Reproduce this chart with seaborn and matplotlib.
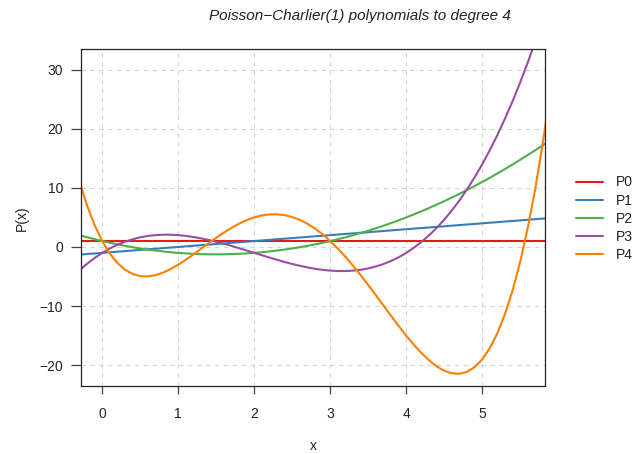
import pandas as pd
import matplotlib.pyplot as plt
import seaborn as sns

x = [-0.3, -0.2, -0.1, 0.0, 0.1, 0.2, 0.3, 0.4, 0.5, 0.6, 0.7, 0.8, 0.9,
     1.0, 1.1, 1.2, 1.3, 1.4, 1.5, 1.6, 1.7, 1.8, 1.9, 2.0, 2.1, 2.2, 2.3,
     2.4, 2.5, 2.6, 2.7, 2.8, 2.9, 3.0, 3.1, 3.2, 3.3, 3.4, 3.5, 3.6, 3.7,
     3.8, 3.9, 4.0, 4.1, 4.2, 4.3, 4.4, 4.5, 4.6, 4.7, 4.8, 4.9, 5.0, 5.1,
     5.2, 5.3, 5.4, 5.5, 5.6, 5.7, 5.8, 5.9]

p0 = [1.0] * 63
p1 = [-1.3, -1.2, -1.1, -1.0, -0.9, -0.8, -0.7, -0.6, -0.5, -0.4, -0.3, -0.2, -0.1,
      0.0, 0.1, 0.2, 0.3, 0.4, 0.5, 0.6, 0.7, 0.8, 0.9, 1.0, 1.1, 1.2, 1.3,
      1.4, 1.5, 1.6, 1.7, 1.8, 1.9, 2.0, 2.1, 2.2, 2.3, 2.4, 2.5, 2.6, 2.7,
      2.8, 2.9, 3.0, 3.1, 3.2, 3.3, 3.4, 3.5, 3.6, 3.7, 3.8, 3.9, 4.0, 4.1,
      4.2, 4.3, 4.4, 4.5, 4.6, 4.7, 4.8, 4.9]
p2 = [1.99, 1.64, 1.31, 1.0, 0.71, 0.44, 0.19, -0.04, -0.25, -0.44, -0.61, -0.76, -0.89,
      -1.0, -1.09, -1.16, -1.21, -1.24, -1.25, -1.24, -1.21, -1.16, -1.09, -1.0, -0.89, -0.76, -0.61,
      -0.44, -0.25, -0.04, 0.19, 0.44, 0.71, 1.0, 1.31, 1.64, 1.99, 2.36, 2.75, 3.16, 3.59,
      4.04, 4.51, 5.0, 5.51, 6.04, 6.59, 7.16, 7.75, 8.36, 8.99, 9.64, 10.31, 11.0, 11.71,
      12.44, 13.19, 13.96, 14.75, 15.56, 16.39, 17.24, 18.11]
p3 = [-3.97, -2.85, -1.86, -1.0, -0.26, 0.37, 0.89, 1.30, 1.63, 1.86, 2.0, 2.07, 2.07,
      2.0, 1.87, 1.69, 1.46, 1.18, 0.88, 0.54, 0.17, -0.21, -0.6, -1.0, -1.4, -1.79, -2.17,
      -2.54, -2.88, -3.18, -3.46, -3.69, -3.87, -4.0, -4.07, -4.07, -4.0, -3.86, -3.63, -3.3, -2.89,
      -2.37, -1.74, -1.0, -0.14, 0.85, 1.97, 3.22, 4.63, 6.18, 7.88, 9.75, 11.79, 14.0, 16.39,
      18.97, 21.74, 24.7, 27.88, 31.26, 34.85, 38.67, 42.72]
p4 = [11.09, 7.04, 3.7, 1.0, -1.12, -2.72, -3.85, -4.57, -4.94, -4.99, -4.78, -4.35, -3.74,
      -3.0, -2.16, -1.25, -0.3, 0.64, 1.56, 2.43, 3.23, 3.94, 4.53, 5.0, 5.33, 5.51, 5.52,
      5.38, 5.06, 4.58, 3.92, 3.11, 2.13, 1.0, -0.27, -1.66, -3.17, -4.77, -6.44, -8.16, -9.9,
      -11.65, -13.36, -15.0, -16.54, -17.95, -19.18, -20.19, -20.94, -21.37, -21.45, -21.12, -20.32, -19.0, -17.1,
      -14.56, -11.31, -7.29, -2.44, 3.33, 10.08, 17.89, 26.84]

labels = ["P0", "P1", "P2", "P3", "P4"]
colors = ["#E41A1C", "#377EB8", "#4DAF4A", "#984EA3", "#FF7F00"]

df = pd.concat([pd.DataFrame({"x": x, "y": v, "poly": name})
                for name, v in zip(labels, [p0, p1, p2, p3, p4])])

sns.set_style("white")
plt.rcParams["font.family"] = ["Liberation Sans", "DejaVu Sans"]

fig = plt.figure(figsize=(6.34, 4.54), dpi=100)
ax = fig.add_axes([0.128, 0.150, 0.731, 0.741])

sns.lineplot(data=df, x="x", y="y", hue="poly", palette=colors, lw=1.5,
             sort=False, ax=ax, legend=False)

ax.set_xlim(-0.277, 5.82)
ax.set_ylim(-23.5, 33.4)
ax.set_xticks([0, 1, 2, 3, 4, 5])
ax.set_yticks([-20, -10, 0, 10, 20, 30])
ax.grid(True, ls=(0, (4, 4)), color="#d4d4d4", lw=0.8)
ax.set_axisbelow(True)
for s in ax.spines.values():
    s.set_color("#222222")
    s.set_linewidth(0.9)
ax.tick_params(axis="y", direction="out", length=7, width=0.9, pad=6,
               labelsize=10, color="#444444", labelcolor="#222222", left=True)
ax.tick_params(axis="x", direction="out", length=6, width=0.9, pad=9,
               labelsize=10, color="#444444", labelcolor="#222222", bottom=True)
ax.set_xlabel("x", fontsize=10, color="#222222")
ax.set_ylabel("P(x)", fontsize=10, color="#222222")
ax.xaxis.set_label_coords(0.5, -0.158)
ax.yaxis.set_label_coords(-0.113, 0.5)

fig.text(0.568, 1 - 16 / 454, "Poisson\u2212Charlier(1) polynomials to degree 4",
         ha="center", va="center", style="italic", fontsize=11, color="#222222")

handles = [plt.Line2D([], [], color=c, lw=1.5) for c in colors]
fig.legend(handles, labels, loc="center left", bbox_to_anchor=(0.908, 0.518),
           frameon=False, fontsize=10, handlelength=1.95, handletextpad=0.95,
           labelspacing=0.3, borderpad=0, borderaxespad=0, labelcolor="#222222")

fig.savefig("out.png", dpi=100)
